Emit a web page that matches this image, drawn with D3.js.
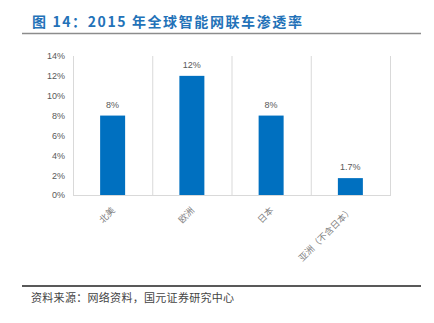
<!DOCTYPE html>
<html><head><meta charset="utf-8">
<script src="https://cdn.jsdelivr.net/npm/d3@7"></script>
<style>body{margin:0;background:#fff}svg{display:block}</style>
</head><body>
<script>
const categories = ["北美", "欧洲", "日本", "亚洲（不含日本）"];
const values = [8, 12, 8, 1.7];
const valueLabels = ["8%", "12%", "8%", "1.7%"];
const yTicks = [0, 2, 4, 6, 8, 10, 12, 14];
const title = "图 14：2015 年全球智能网联车渗透率";
const source = "资料来源：网络资料，国元证券研究中心";

const W = 434, H = 323;
const svg = d3.select("body").append("svg").attr("width", W).attr("height", H);
const fontCJK = "'Noto Sans CJK SC', 'Noto Sans', sans-serif";

svg.append("text").attr("x", 32).attr("y", 27).text(title)
  .attr("font-family", fontCJK).attr("font-weight", "bold").attr("font-size", 14)
  .attr("letter-spacing", 1.6)
  .attr("fill", "#2372b8");
svg.append("line").attr("x1", 22).attr("x2", 421).attr("y1", 33.5).attr("y2", 33.5)
  .attr("stroke", "#8c8c8c").attr("stroke-width", 1.5);

const plot = {l: 73, r: 390, t: 56, b: 195};
const x = d3.scaleBand().domain(categories).range([plot.l, plot.r]).paddingInner(0).paddingOuter(0);
const y = d3.scaleLinear().domain([0, 14]).range([plot.b, plot.t]);

// vertical separators at category boundaries
const bounds = categories.map(c => x(c)).concat([plot.r]);
svg.append("g").selectAll("line").data(bounds).join("line")
  .attr("x1", d => d + 0.5).attr("x2", d => d + 0.5)
  .attr("y1", plot.t).attr("y2", plot.b)
  .attr("stroke", "#d9d9d9").attr("stroke-width", 1);

// y axis
const yAxis = svg.append("g").attr("transform", `translate(${plot.l},0)`)
  .call(d3.axisLeft(y).tickValues(yTicks).tickFormat(d => d + "%").tickSize(0).tickPadding(8));
yAxis.select(".domain").remove();
yAxis.selectAll("text").attr("font-family", "'Liberation Sans', Arial, sans-serif")
  .attr("font-size", 9).attr("fill", "#595959");

// bars
const bw = 25;
svg.append("g").selectAll("rect").data(values).join("rect")
  .attr("x", (d, i) => x(categories[i]) + x.bandwidth() / 2 - bw / 2)
  .attr("width", bw)
  .attr("y", d => y(d))
  .attr("height", d => plot.b - y(d))
  .attr("fill", "#0070c0");

// value labels
svg.append("g").selectAll("text").data(values).join("text")
  .attr("x", (d, i) => x(categories[i]) + x.bandwidth() / 2)
  .attr("y", d => y(d) - 8)
  .attr("text-anchor", "middle")
  .attr("font-family", "'Liberation Sans', Arial, sans-serif")
  .attr("font-size", 9).attr("fill", "#595959")
  .text((d, i) => valueLabels[i]);

// x axis baseline
svg.append("line").attr("x1", plot.l).attr("x2", plot.r + 1)
  .attr("y1", plot.b + 0.5).attr("y2", plot.b + 0.5)
  .attr("stroke", "#d9d9d9").attr("stroke-width", 1);

// category labels
svg.append("g").selectAll("text").data(categories).join("text")
  .attr("transform", d => `translate(${x(d) + x.bandwidth() / 2 + 3},${plot.b + 16}) rotate(-45)`)
  .attr("text-anchor", "end")
  .attr("font-family", fontCJK).attr("font-size", 9).attr("fill", "#7f7f7f")
  .text(d => d);

svg.append("line").attr("x1", 22).attr("x2", 421).attr("y1", 286).attr("y2", 286)
  .attr("stroke", "#222").attr("stroke-width", 1.5);
svg.append("text").attr("x", 31).attr("y", 302).text(source)
  .attr("font-family", fontCJK).attr("font-size", 11).attr("letter-spacing", 0.3).attr("fill", "#444");
</script>
</body></html>
